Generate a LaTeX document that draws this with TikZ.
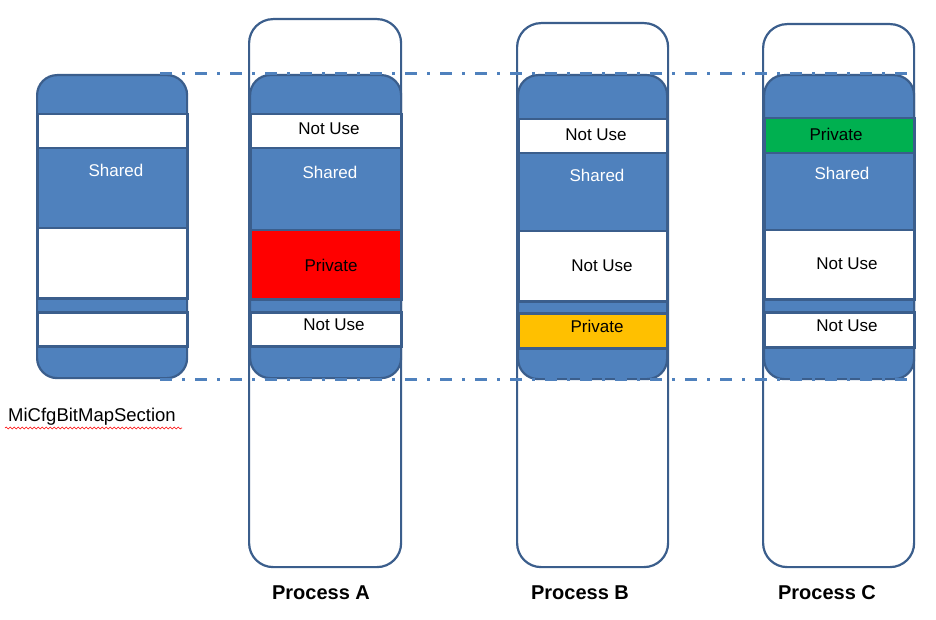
\documentclass[tikz,border=0pt]{standalone}
\usepackage{fontspec}
\setmainfont{Liberation Sans}
\usetikzlibrary{decorations.pathmorphing}
\definecolor{mblue}{HTML}{4F81BD}
\definecolor{mline}{HTML}{3B5E8C}
\definecolor{mred}{HTML}{FF0000}
\definecolor{myel}{HTML}{FFC000}
\definecolor{mgreen}{HTML}{00B050}
\begin{document}
\begin{tikzpicture}[x=1pt,y=-1pt,
  outerbox/.style={draw=mline, line width=2.2pt, rounded corners=24pt, fill=white, anchor=north west, inner sep=0pt},
  stackbox/.style={draw=mline, line width=2.2pt, fill=mblue, rounded corners=20pt, anchor=north west, inner sep=0pt},
  band/.style={draw=mline, line width=2.5pt, anchor=north west, inner sep=0pt},
  lbl/.style={font=\fontsize{17}{20}\selectfont, inner sep=0pt},
  wlbl/.style={lbl, text=white},
  plbl/.style={font=\bfseries\fontsize{20}{24}\selectfont, inner sep=0pt},
  guide/.style={mblue, line width=3pt, dash pattern=on 12pt off 10pt on 3pt off 10pt}]
\useasboundingbox (0,0) rectangle (936,620);
% outer process boxes
\node[outerbox, minimum width=152pt, minimum height=548pt] (OA) at (248,18) {};
\node[outerbox, minimum width=151pt, minimum height=544pt] (OB) at (516,22) {};
\node[outerbox, minimum width=151pt, minimum height=543pt] (OC) at (762,23) {};
% stacks
\node[stackbox, minimum width=150pt, minimum height=303pt] (L) at (36,74) {};
\node[stackbox, minimum width=151pt, minimum height=303pt] (A) at (249,74) {};
\node[stackbox, minimum width=149pt, minimum height=304pt] (B) at (517,74) {};
\node[stackbox, minimum width=150pt, minimum height=304pt] (C) at (763,74) {};
% left bands
\node[band, fill=white, minimum width=150pt, minimum height=34pt] (LW1) at (36,113) {};
\node[band, fill=mblue, minimum width=150pt, minimum height=80pt] (LS) at (36,147) {};
\node[band, fill=white, minimum width=150pt, minimum height=70pt] (LW2) at (36,227) {};
\node[band, fill=white, minimum width=150pt, minimum height=34pt] (LW3) at (36,311) {};
% process A bands
\node[band, fill=white, minimum width=151pt, minimum height=34pt] (AW1) at (249,113) {};
\node[band, fill=mblue, minimum width=151pt, minimum height=82pt] (AS) at (249,147) {};
\node[band, fill=mred, minimum width=151pt, minimum height=69pt] (AP) at (249,229) {};
\node[band, fill=white, minimum width=151pt, minimum height=34pt] (AW2) at (249,311) {};
% process B bands
\node[band, fill=white, minimum width=149pt, minimum height=34pt] (BW1) at (517,118) {};
\node[band, fill=mblue, minimum width=149pt, minimum height=78pt] (BS) at (517,152) {};
\node[band, fill=white, minimum width=149pt, minimum height=70pt] (BW2) at (517,230) {};
\node[band, fill=myel, minimum width=149pt, minimum height=35pt] (BP) at (517,312) {};
% process C bands
\node[band, fill=mgreen, minimum width=150pt, minimum height=35pt] (CP) at (763,117) {};
\node[band, fill=mblue, minimum width=150pt, minimum height=77pt] (CS) at (763,152) {};
\node[band, fill=white, minimum width=150pt, minimum height=69pt] (CW1) at (763,229) {};
\node[band, fill=white, minimum width=150pt, minimum height=35pt] (CW2) at (763,311) {};
% labels
\node[wlbl] (tLS) at (116,170) {Shared};
\node[lbl] (tAW1) at (329,129) {Not Use};
\node[wlbl] (tAS) at (330,172) {Shared};
\node[lbl] (tAP) at (331,265) {Private};
\node[lbl] (tAW2) at (334,325) {Not Use};
\node[lbl] (tBW1) at (596,135) {Not Use};
\node[wlbl] (tBS) at (597,175) {Shared};
\node[lbl] (tBW2) at (602,266) {Not Use};
\node[lbl] (tBP) at (597,326) {Private};
\node[lbl] (tCP) at (836,134) {Private};
\node[wlbl] (tCS) at (842,173) {Shared};
\node[lbl] (tCW1) at (847,264) {Not Use};
\node[lbl] (tCW2) at (847,326) {Not Use};
\node[lbl, font=\fontsize{18.5}{22}\selectfont] (tMi) at (92,417) {MiCfgBitMapSection};
\node[plbl] (pA) at (321,593) {Process A};
\node[plbl] (pB) at (580,593) {Process B};
\node[plbl] (pC) at (827,593) {Process C};
% squiggle under name
\coordinate (sq1) at (5,428);
\coordinate (sq2) at (182,428);
\draw[red, line width=0.6pt, decorate, decoration={snake, amplitude=0.9pt, segment length=4pt}] (sq1) -- (sq2);
% guide lines
\coordinate (g1) at (160,74);
\coordinate (g2) at (910,74);
\coordinate (g3) at (160,379);
\coordinate (g4) at (910,379);
\draw[guide] (g1) -- (g2);
\draw[guide] (g3) -- (g4);
\end{tikzpicture}
\end{document}
